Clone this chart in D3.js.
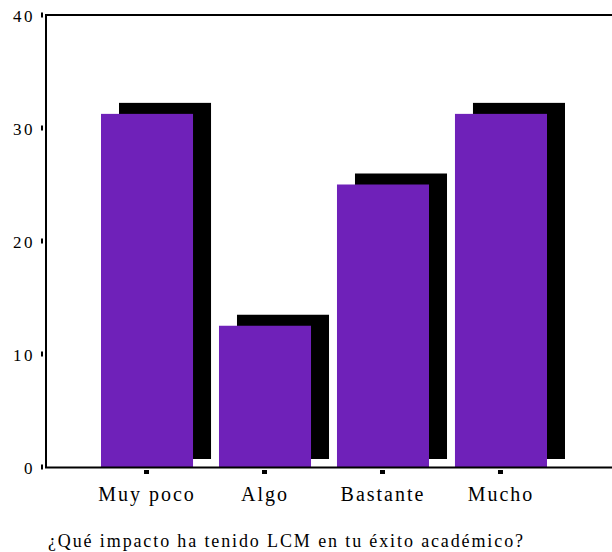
<!DOCTYPE html>
<html>
<head>
<meta charset="utf-8">
<script src="https://cdn.jsdelivr.net/npm/d3@7"></script>
<style>
  html, body { margin: 0; padding: 0; background: #fff; }
  svg { display: block; }
  svg text { font-family: "Liberation Serif", "Times New Roman", Tinos, Times, serif !important; fill: #000; }
</style>
</head>
<body>
<svg id="chart" width="612" height="552"></svg>
<script>
const categories = ["Muy poco", "Algo", "Bastante", "Mucho"];
const percentValues = [31.25, 12.5, 25, 31.25];
const yTickValues = [0, 10, 20, 30, 40];
const xAxisTitle = "¿Qué impacto ha tenido LCM en tu éxito académico?";

const svg = d3.select("#chart");
const W = 612, H = 552;
const plot = { left: 46, right: 612, top: 15, bottom: 467 };

const y = d3.scaleLinear().domain([0, 40]).range([plot.bottom, plot.top]);
const x = d3.scaleBand().domain(categories).range([101, 547]).paddingInner(0.22).paddingOuter(0);

const purple = "#6f21b9";
const shadowDx = 18, shadowDy = -11, shadowBottomLift = 8;

// shadows
svg.append("g").selectAll("rect").data(categories).join("rect")
  .attr("x", d => x(d) + shadowDx)
  .attr("y", (d, i) => y(percentValues[i]) + shadowDy)
  .attr("width", x.bandwidth())
  .attr("height", (d, i) => (y(0) - shadowBottomLift) - (y(percentValues[i]) + shadowDy))
  .attr("fill", "#000");

// bars
svg.append("g").selectAll("rect").data(categories).join("rect")
  .attr("x", d => x(d))
  .attr("y", (d, i) => y(percentValues[i]))
  .attr("width", x.bandwidth())
  .attr("height", (d, i) => y(0) - y(percentValues[i]))
  .attr("fill", purple);

// frame: top line, left axis, bottom axis
svg.append("line").attr("x1", plot.left).attr("x2", W).attr("y1", plot.top).attr("y2", plot.top)
  .attr("stroke", "#000").attr("stroke-width", 2);
svg.append("line").attr("x1", plot.left).attr("x2", plot.left).attr("y1", plot.top - 1).attr("y2", plot.bottom + 1)
  .attr("stroke", "#000").attr("stroke-width", 2);
svg.append("line").attr("x1", plot.left - 1).attr("x2", W).attr("y1", plot.bottom + 0.5).attr("y2", plot.bottom + 0.5)
  .attr("stroke", "#000").attr("stroke-width", 2);

// y axis ticks and labels
const yAxis = d3.axisLeft(y).tickValues(yTickValues).tickSize(0).tickPadding(0);
const gy = svg.append("g").attr("transform", `translate(${plot.left},0)`).call(yAxis);
gy.attr("font-family", null);
gy.select(".domain").remove();
gy.selectAll(".tick").each(function(d) {
  const t = d3.select(this);
  t.select("text")
    .attr("x", -11)
    .attr("dy", 6)
    .style("font-size", "17px")
    .style("letter-spacing", "2.5px")
    .attr("fill", "#000");
  t.append("rect").attr("x", -5).attr("y", -3).attr("width", 2).attr("height", 5).attr("fill", "#000");
});

// x axis ticks and labels
const xAxis = d3.axisBottom(x).tickSize(0).tickPadding(0);
const gx = svg.append("g").attr("transform", `translate(0,${plot.bottom})`).call(xAxis);
gx.attr("font-family", null);
gx.select(".domain").remove();
gx.selectAll(".tick").each(function(d) {
  const t = d3.select(this);
  t.append("rect").attr("x", -3).attr("y", 3).attr("width", 5).attr("height", 4).attr("fill", "#000");
  t.select("text")
    .attr("y", 34)
    .attr("dy", 0)
    .attr("dx", 0)
    .style("font-size", "20px")
    .style("letter-spacing", "2px")
    .attr("fill", "#000");
});

// axis title
svg.append("text")
  .attr("x", 48).attr("y", 547)
  .attr("textLength", 475).attr("lengthAdjust", "spacing")
  .style("font-size", "18px")
  .text(xAxisTitle);
</script>
</body>
</html>
